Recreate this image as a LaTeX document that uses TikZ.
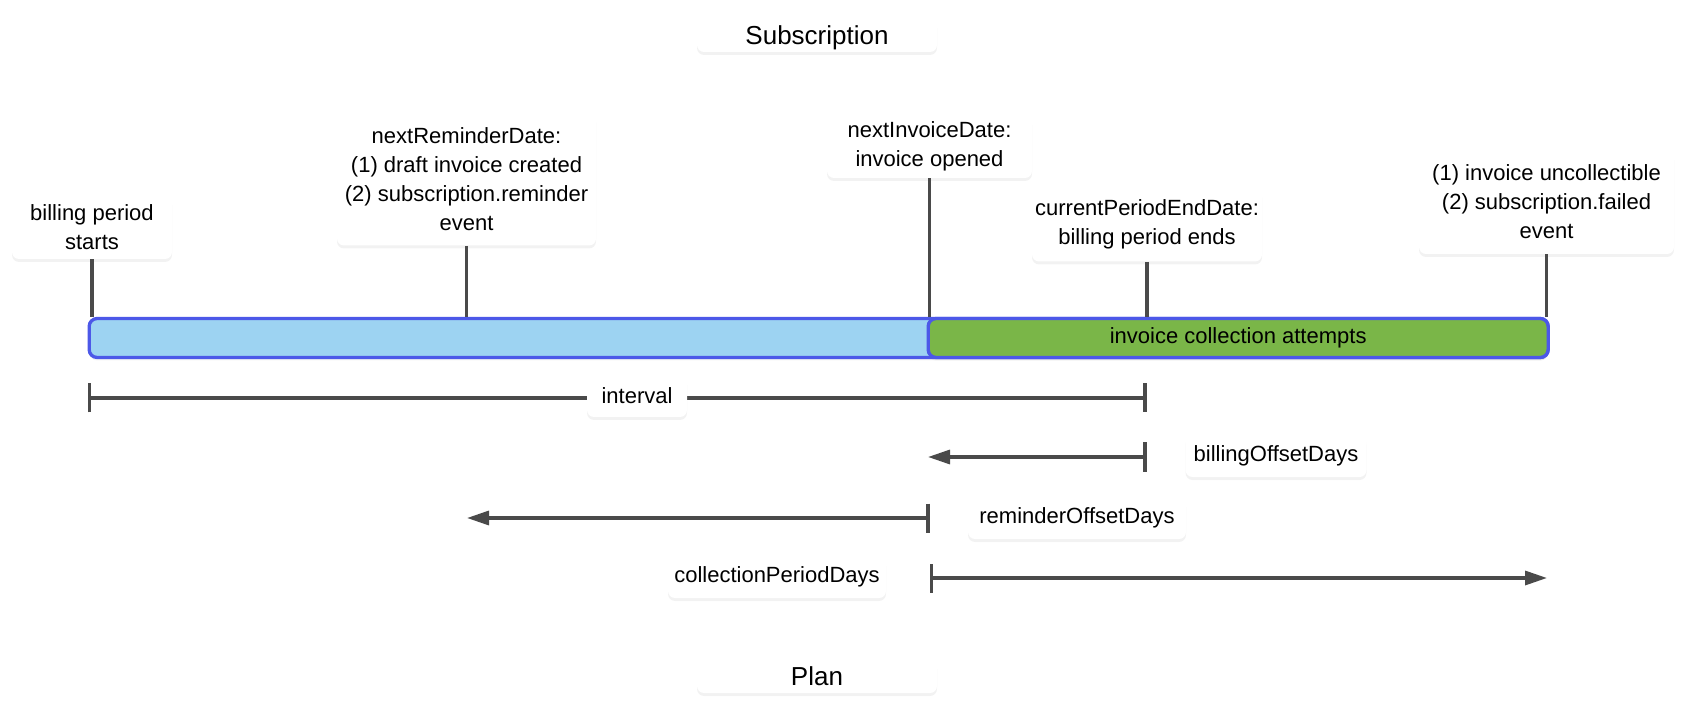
\documentclass[tikz,border=0pt]{standalone}
\usepackage{fontspec}
\setmainfont{Liberation Sans}
\usepackage{tikz}
\usetikzlibrary{arrows.meta, shadows}

\definecolor{linegray}{RGB}{74,74,74}
\definecolor{barblue}{RGB}{76,88,232}
\definecolor{lightblue}{RGB}{157,211,242}
\definecolor{bargreen}{RGB}{122,182,72}

\begin{document}
\begin{tikzpicture}[x=0.5pt, y=-0.5pt,
			box/.style={fill=white, rounded corners=3.5pt, align=center, inner sep=0pt,
				drop shadow={opacity=0.10, shadow xshift=0pt, shadow yshift=-1.5pt}},
			bar/.style={draw=barblue, line width=1.65pt, rounded corners=4pt, inner sep=0pt,
				minimum height=19.5pt, drop shadow={opacity=0.10, shadow xshift=0pt, shadow yshift=-1.5pt}},
			tick/.style={draw=linegray, line width=1.65pt},
			title/.style={box, font=\fontsize{13}{16}\selectfont, text depth=0pt, minimum width=120pt, minimum height=17pt},
			>={Triangle[length=11pt, width=7pt]},   %Pfeilspitzen
			font=\fontsize{11}{14.5}\selectfont]
			\useasboundingbox (0,0) rectangle (1700,715);
			% Titel
			\node[title] (sub) at (817,35) {Subscription};
			\node[title] (plan) at (817,676) {Plan};
			% Zeitpunkte
			\node[box, minimum width=80pt, minimum height=32pt] (start) at (92,227) {billing period\\starts};
			\node[box, minimum width=129.5pt, minimum height=66.5pt] (remind) at (466.5,179) {nextReminderDate:\\(1) draft invoice created\\(2) subscription.reminder\\event};
			\node[box, minimum width=102.5pt, minimum height=31.5pt] (invoice) at (929.5,146.5) {nextInvoiceDate:\\invoice opened};
			\node[box, minimum width=115pt, minimum height=37pt] (periodend) at (1147,224.5) {currentPeriodEndDate:\\billing period ends};
			\node[box, minimum width=127.5pt, minimum height=52pt] (failed) at (1546.5,202) {(1) invoice uncollectible\\(2) subscription.failed\\event};
			% Balken
			\node[bar, fill=lightblue, minimum width=729.5pt, anchor=west] (period) at (87.5,338) {};
			\node[bar, fill=bargreen, minimum width=310pt, anchor=east] (attempts) at (period.east) {invoice collection attempts};
			\foreach \n in {start,remind,invoice,periodend,failed} \draw[tick] (\n) -- (\n |- period.north);
			% Abstaende
			\coordinate (ivL) at (88,398);
			\coordinate (ivR) at (1146.5,398);
			\draw[tick, {Bar[width=14.5pt]}-{Bar[width=14.5pt]}] (ivL) -- (ivR);
			\node[box, minimum width=50pt, minimum height=21pt] (interval) at (637,396) {interval};
			\coordinate (billS) at (1146.5,457);
			\coordinate (billE) at (928,457);
			\draw[tick, {Bar[width=14.5pt]}->] (billS) -- (billE);
			\node[box, minimum width=90.5pt, minimum height=21pt] (billing) at (1276,456) {billingOffsetDays};
			\coordinate (remS) at (929.5,518);
			\coordinate (remE) at (467,518);
			\draw[tick, {Bar[width=14.5pt]}->] (remS) -- (remE);
			\node[box, minimum width=109pt, minimum height=21pt] (reminder) at (1077,518) {reminderOffsetDays};
			\coordinate (collS) at (929.5,578);
			\coordinate (collE) at (1547,578);
			\draw[tick, {Bar[width=14.5pt]}->] (collS) -- (collE);
			\node[box, minimum width=109pt, minimum height=21pt] (collection) at (777,577) {collectionPeriodDays};
		\end{tikzpicture}
\end{document}
